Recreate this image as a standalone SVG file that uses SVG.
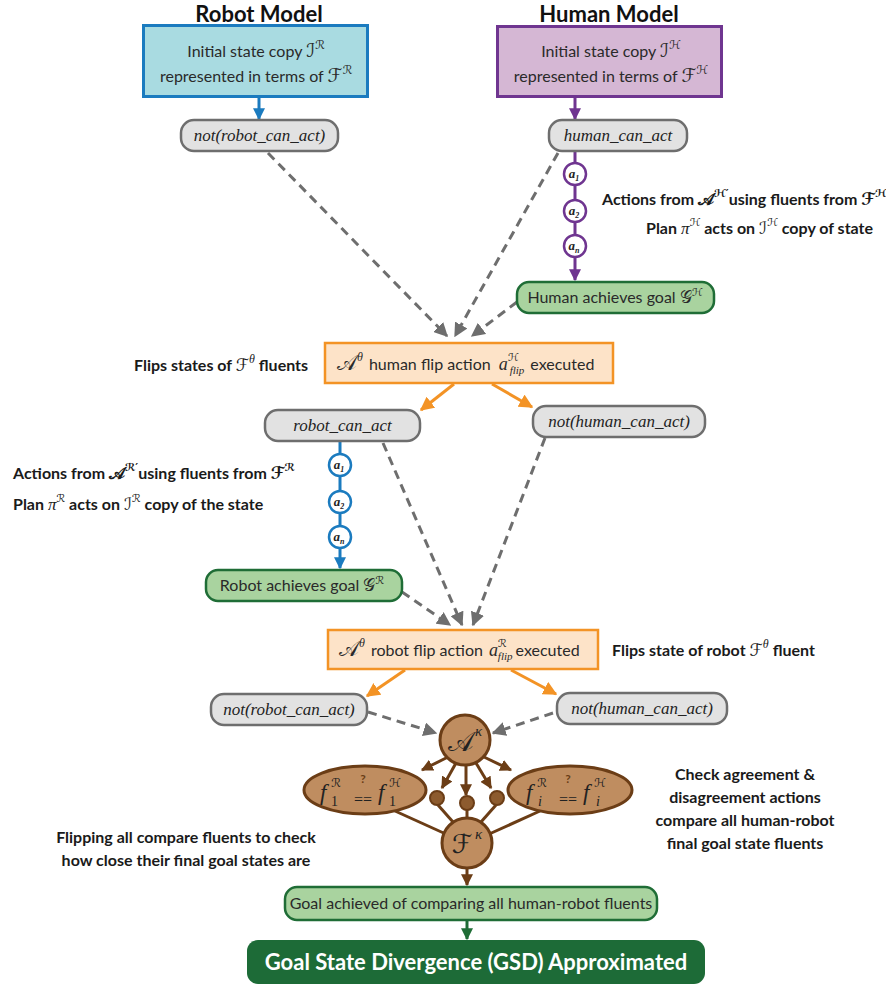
<svg xmlns="http://www.w3.org/2000/svg" width="886" height="987" viewBox="0 0 886 987">
<defs>
<style>
.lbl{font-family:"Lato","Open Sans","Liberation Sans",sans-serif;font-size:16px;fill:#2a2a2a}
.b{font-weight:700;fill:#1a1a1a}
.title{font-family:"Lato","Open Sans","Liberation Sans",sans-serif;font-size:22px;font-weight:700;fill:#111;text-anchor:middle}
.m{font-family:"Liberation Serif","DejaVu Serif",serif;font-style:italic}
.cal{font-family:"DejaVu Serif","DejaVu Sans",serif;font-style:normal}
.pill{fill:#e2e2e2;stroke:#6e6e6e;stroke-width:2.5}
.gpill{fill:#a9d39f;stroke:#1f6d36;stroke-width:2.5}
.obox{fill:#fde3c8;stroke:#f39325;stroke-width:2.5}
.pt{font-family:"Liberation Serif","DejaVu Serif",serif;font-style:italic;font-size:17px;fill:#222;text-anchor:middle}
.dash{stroke:#6e6e6e;stroke-width:3;stroke-dasharray:9 6;fill:none}
.brn{fill:#bf8d60;stroke:#6b3d16;stroke-width:3}
.bl{stroke:#6b3d16;stroke-width:3;fill:none}
.ac{font-family:"Liberation Serif","DejaVu Serif",serif;font-style:italic;font-weight:700;font-size:13px;fill:#222;text-anchor:middle}
</style>
<marker id="mBlue" viewBox="0 0 10 10" refX="9" refY="5" markerWidth="12" markerHeight="12" markerUnits="userSpaceOnUse" orient="auto"><path d="M0,0L10,5L0,10z" fill="#1b7bbf"/></marker>
<marker id="mPur" viewBox="0 0 10 10" refX="9" refY="5" markerWidth="12" markerHeight="12" markerUnits="userSpaceOnUse" orient="auto"><path d="M0,0L10,5L0,10z" fill="#6f3590"/></marker>
<marker id="mGray" viewBox="0 0 10 10" refX="9" refY="5" markerWidth="14" markerHeight="14" markerUnits="userSpaceOnUse" orient="auto"><path d="M0,0L10,5L0,10z" fill="#6e6e6e"/></marker>
<marker id="mOr" viewBox="0 0 10 10" refX="9" refY="5" markerWidth="14" markerHeight="14" markerUnits="userSpaceOnUse" orient="auto"><path d="M0,0L10,5L0,10z" fill="#f39325"/></marker>
<marker id="mBr" viewBox="0 0 10 10" refX="9" refY="5" markerWidth="12" markerHeight="12" markerUnits="userSpaceOnUse" orient="auto"><path d="M0,0L10,5L0,10z" fill="#6b3d16"/></marker>
<marker id="mGr" viewBox="0 0 10 10" refX="9" refY="5" markerWidth="12" markerHeight="12" markerUnits="userSpaceOnUse" orient="auto"><path d="M0,0L10,5L0,10z" fill="#1f6d36"/></marker>
</defs>
<rect width="886" height="987" fill="#ffffff"/>

<g id="connectors">
<line x1="259" y1="97" x2="259" y2="119" stroke="#1b7bbf" stroke-width="3" marker-end="url(#mBlue)"/>
<line x1="575" y1="97" x2="575" y2="119" stroke="#6f3590" stroke-width="3" marker-end="url(#mPur)"/>
<line x1="575" y1="151" x2="575" y2="280" stroke="#6f3590" stroke-width="3" marker-end="url(#mPur)"/>
<line x1="268" y1="153" x2="447" y2="336" class="dash" marker-end="url(#mGray)"/>
<line x1="558" y1="153" x2="455" y2="336" class="dash" marker-end="url(#mGray)"/>
<line x1="517" y1="302" x2="472" y2="336" class="dash" marker-end="url(#mGray)"/>
<line x1="454" y1="384" x2="421" y2="410" stroke="#f39325" stroke-width="3" marker-end="url(#mOr)"/>
<line x1="492" y1="384" x2="532" y2="407" stroke="#f39325" stroke-width="3" marker-end="url(#mOr)"/>
<line x1="340" y1="441" x2="340" y2="568" stroke="#1b7bbf" stroke-width="3" marker-end="url(#mBlue)"/>
<line x1="383" y1="443" x2="462" y2="625" class="dash" marker-end="url(#mGray)"/>
<line x1="545" y1="438" x2="473" y2="625" class="dash" marker-end="url(#mGray)"/>
<line x1="402" y1="592" x2="450" y2="625" class="dash" marker-end="url(#mGray)"/>
<line x1="405" y1="670" x2="367" y2="696" stroke="#f39325" stroke-width="3" marker-end="url(#mOr)"/>
<line x1="511" y1="670" x2="556" y2="694" stroke="#f39325" stroke-width="3" marker-end="url(#mOr)"/>
<line x1="368" y1="712" x2="436" y2="733" class="dash" marker-end="url(#mGray)"/>
<line x1="553" y1="713" x2="493" y2="733" class="dash" marker-end="url(#mGray)"/>
<line x1="448" y1="757" x2="422" y2="770" class="bl" marker-end="url(#mBr)"/>
<line x1="456" y1="763" x2="442" y2="788" class="bl" marker-end="url(#mBr)"/>
<line x1="466" y1="765" x2="466" y2="795" class="bl" marker-end="url(#mBr)"/>
<line x1="476" y1="763" x2="491" y2="788" class="bl" marker-end="url(#mBr)"/>
<line x1="484" y1="757" x2="511" y2="770" class="bl" marker-end="url(#mBr)"/>
<line x1="395" y1="811" x2="448" y2="835" class="bl"/>
<line x1="438" y1="805" x2="453" y2="822" class="bl"/>
<line x1="467" y1="810" x2="467" y2="819" class="bl"/>
<line x1="496" y1="805" x2="481" y2="822" class="bl"/>
<line x1="540" y1="811" x2="487" y2="835" class="bl"/>
<line x1="467" y1="868" x2="467" y2="885" class="bl" marker-end="url(#mBr)"/>
<line x1="467" y1="920" x2="467" y2="939" stroke="#1f6d36" stroke-width="3" marker-end="url(#mGr)"/>
</g>

<g id="robot-model">
<text x="259" y="22" class="title">Robot Model</text>
<rect x="143.5" y="25.5" width="224" height="71" fill="#a9dbe1" stroke="#1b7bbf" stroke-width="3"/>
<text x="256" y="57" class="lbl" font-size="17" text-anchor="middle">Initial state copy <tspan class="cal" font-size="19">ℐ</tspan><tspan class="cal" font-size="12" dy="-8">ℛ</tspan></text>
<text x="256" y="82" class="lbl" font-size="17" text-anchor="middle">represented in terms of <tspan class="cal" font-size="19">ℱ</tspan><tspan class="cal" font-size="12" dy="-8">ℛ</tspan></text>
</g>

<g id="human-model">
<text x="609" y="22" class="title">Human Model</text>
<rect x="497.5" y="26.5" width="224" height="70" fill="#d5b7d4" stroke="#6f3590" stroke-width="3"/>
<text x="611" y="57" class="lbl" font-size="17" text-anchor="middle">Initial state copy <tspan class="cal" font-size="19">ℐ</tspan><tspan class="cal" font-size="12" dy="-8">ℋ</tspan></text>
<text x="611" y="82" class="lbl" font-size="17" text-anchor="middle">represented in terms of <tspan class="cal" font-size="19">ℱ</tspan><tspan class="cal" font-size="12" dy="-8">ℋ</tspan></text>
</g>

<g id="not-robot-can-act-1">
<rect x="181" y="120" width="157" height="31" rx="13" class="pill"/>
<text x="259.5" y="141" class="pt">not(robot_can_act)</text>
</g>

<g id="human-can-act">
<rect x="549" y="120" width="138" height="31" rx="13" class="pill"/>
<text x="618" y="141" class="pt">human_can_act</text>
</g>

<g id="human-actions">
<circle cx="575" cy="174" r="11" fill="#fff" stroke="#6f3590" stroke-width="2.5"/>
<text x="574" y="178" class="ac">a<tspan font-size="8" dy="3">1</tspan></text>
<circle cx="575" cy="211" r="11" fill="#fff" stroke="#6f3590" stroke-width="2.5"/>
<text x="574" y="215" class="ac">a<tspan font-size="8" dy="3">2</tspan></text>
<circle cx="575" cy="246" r="11" fill="#fff" stroke="#6f3590" stroke-width="2.5"/>
<text x="574" y="250" class="ac">a<tspan font-size="8" dy="3">n</tspan></text>
</g>

<g id="human-actions-label">
<text x="602" y="205" class="lbl b">Actions from <tspan class="cal" font-size="17">𝒜</tspan><tspan class="cal" font-size="11" dy="-8">ℋ′</tspan><tspan dy="8">using fluents from </tspan><tspan class="cal" font-size="17">ℱ</tspan><tspan class="cal" font-size="11" dy="-8">ℋ</tspan></text>
<text x="646" y="234" class="lbl b">Plan <tspan class="m" font-size="17" font-weight="400">π</tspan><tspan class="cal" font-size="11" font-weight="400" dy="-8">ℋ</tspan><tspan dy="8"> acts on </tspan><tspan class="cal" font-size="17" font-weight="400">ℐ</tspan><tspan class="cal" font-size="11" font-weight="400" dy="-8">ℋ</tspan><tspan dy="8"> copy of state</tspan></text>
</g>

<g id="human-goal">
<rect x="517" y="282" width="197" height="31" rx="12" class="gpill"/>
<text x="615" y="303" class="lbl" text-anchor="middle">Human achieves goal <tspan class="cal" font-size="17">𝒢</tspan><tspan class="cal" font-size="11" dy="-7">ℋ</tspan></text>
</g>

<g id="human-flip">
<rect x="325" y="343" width="288" height="40" class="obox"/>
<text x="337" y="370" class="lbl" font-size="17"><tspan class="cal" font-size="21">𝒜</tspan><tspan class="m" font-size="12" dy="-9">θ</tspan><tspan dy="9" dx="6">human flip action </tspan><tspan class="m" font-size="18" dx="4">a</tspan><tspan class="cal" font-size="11" dy="-9">ℋ</tspan><tspan class="m" font-size="11" dx="-9" dy="13">flip</tspan><tspan dy="-4" dx="6">executed</tspan></text>
</g>

<g id="human-flip-label">
<text x="134" y="371" class="lbl b">Flips states of <tspan class="cal" font-size="17" font-weight="400">ℱ</tspan><tspan class="m" font-size="12" font-weight="400" dy="-8">θ</tspan><tspan dy="8"> fluents</tspan></text>
</g>

<g id="robot-can-act">
<rect x="265" y="410" width="155" height="31" rx="13" class="pill"/>
<text x="342.5" y="431" class="pt">robot_can_act</text>
</g>

<g id="not-human-can-act-1">
<rect x="533" y="406" width="172" height="31" rx="13" class="pill"/>
<text x="619" y="427" class="pt">not(human_can_act)</text>
</g>

<g id="robot-actions">
<circle cx="340" cy="465" r="11" fill="#fff" stroke="#1b7bbf" stroke-width="2.5"/>
<text x="339" y="469" class="ac">a<tspan font-size="8" dy="3">1</tspan></text>
<circle cx="340" cy="502" r="11" fill="#fff" stroke="#1b7bbf" stroke-width="2.5"/>
<text x="339" y="506" class="ac">a<tspan font-size="8" dy="3">2</tspan></text>
<circle cx="340" cy="537" r="11" fill="#fff" stroke="#1b7bbf" stroke-width="2.5"/>
<text x="339" y="541" class="ac">a<tspan font-size="8" dy="3">n</tspan></text>
</g>

<g id="robot-actions-label">
<text x="13" y="479" class="lbl b">Actions from  <tspan class="cal" font-size="17">𝒜</tspan><tspan class="cal" font-size="11" dy="-8">ℛ′</tspan><tspan dy="8">using fluents from </tspan><tspan class="cal" font-size="17">ℱ</tspan><tspan class="cal" font-size="11" dy="-8">ℛ</tspan></text>
<text x="13" y="510" class="lbl b">Plan <tspan class="m" font-size="17" font-weight="400">π</tspan><tspan class="cal" font-size="11" font-weight="400" dy="-8">ℛ</tspan><tspan dy="8"> acts on </tspan><tspan class="cal" font-size="17" font-weight="400">ℐ</tspan><tspan class="cal" font-size="11" font-weight="400" dy="-8">ℛ</tspan><tspan dy="8"> copy of the state</tspan></text>
</g>

<g id="robot-goal">
<rect x="206" y="570" width="196" height="31" rx="12" class="gpill"/>
<text x="302" y="591" class="lbl" text-anchor="middle">Robot achieves goal <tspan class="cal" font-size="17">𝒢</tspan><tspan class="cal" font-size="11" dy="-7">ℛ</tspan></text>
</g>

<g id="robot-flip">
<rect x="328" y="630" width="270" height="39" class="obox"/>
<text x="339" y="656" class="lbl" font-size="17"><tspan class="cal" font-size="21">𝒜</tspan><tspan class="m" font-size="12" dy="-9">θ</tspan><tspan dy="9" dx="6">robot flip action </tspan><tspan class="m" font-size="18" dx="2">a</tspan><tspan class="cal" font-size="11" dy="-9">ℛ</tspan><tspan class="m" font-size="11" dx="-9" dy="13">flip</tspan><tspan dy="-4" dx="3">executed</tspan></text>
</g>

<g id="robot-flip-label">
<text x="612" y="656" class="lbl b">Flips state of robot <tspan class="cal" font-size="17" font-weight="400">ℱ</tspan><tspan class="m" font-size="12" font-weight="400" dy="-8">θ</tspan><tspan dy="8"> fluent</tspan></text>
</g>

<g id="not-robot-can-act-2">
<rect x="211" y="694" width="156" height="31" rx="13" class="pill"/>
<text x="289" y="715" class="pt">not(robot_can_act)</text>
</g>

<g id="not-human-can-act-2">
<rect x="557" y="693" width="170" height="31" rx="13" class="pill"/>
<text x="642" y="714" class="pt">not(human_can_act)</text>
</g>

<g id="A-kappa">
<circle cx="465" cy="740" r="25" class="brn"/>
<text x="461" y="751" class="cal" font-size="27" fill="#222" text-anchor="middle">𝒜</text>
<text x="475" y="736" class="m" font-size="15" fill="#222">κ</text>
</g>

<g id="compare-1">
<ellipse cx="365" cy="790" rx="61" ry="24" class="brn"/>
<text x="320" y="800" class="m" font-size="23" fill="#222">f</text>
<text x="331" y="787" class="cal" font-size="12" fill="#222">ℛ</text>
<text x="331" y="806" font-family="Liberation Serif,serif" font-size="14" fill="#222">1</text>
<text x="363" y="783" font-family="Lato,Open Sans,sans-serif" font-weight="700" font-size="12" fill="#6b3d16" text-anchor="middle">?</text>
<text x="363" y="805" font-family="Liberation Serif,serif" font-size="16" fill="#222" text-anchor="middle">==</text>
<text x="378" y="800" class="m" font-size="23" fill="#222">f</text>
<text x="389" y="787" class="cal" font-size="12" fill="#222">ℋ</text>
<text x="389" y="806" font-family="Liberation Serif,serif" font-size="14" fill="#222">1</text>
</g>

<g id="compare-i">
<ellipse cx="570" cy="790" rx="62" ry="24" class="brn"/>
<text x="526" y="800" class="m" font-size="23" fill="#222">f</text>
<text x="537" y="787" class="cal" font-size="12" fill="#222">ℛ</text>
<text x="538" y="806" class="m" font-size="14" fill="#222">i</text>
<text x="568" y="783" font-family="Lato,Open Sans,sans-serif" font-weight="700" font-size="12" fill="#6b3d16" text-anchor="middle">?</text>
<text x="568" y="805" font-family="Liberation Serif,serif" font-size="16" fill="#222" text-anchor="middle">==</text>
<text x="583" y="800" class="m" font-size="23" fill="#222">f</text>
<text x="594" y="787" class="cal" font-size="12" fill="#222">ℋ</text>
<text x="596" y="806" class="m" font-size="14" fill="#222">i</text>
</g>

<g id="compare-dots">
<circle cx="437" cy="798" r="7" fill="#8d5b2e" stroke="#6b3d16" stroke-width="2"/>
<circle cx="467" cy="803" r="7" fill="#8d5b2e" stroke="#6b3d16" stroke-width="2"/>
<circle cx="497" cy="798" r="7" fill="#8d5b2e" stroke="#6b3d16" stroke-width="2"/>
</g>

<g id="F-kappa">
<circle cx="467" cy="843" r="25" class="brn"/>
<text x="462" y="853" class="cal" font-size="26" fill="#222" text-anchor="middle">ℱ</text>
<text x="475" y="839" class="m" font-size="15" fill="#222">κ</text>
</g>

<g id="check-label">
<text class="lbl b" text-anchor="middle"><tspan x="745" y="780">Check agreement &amp;</tspan><tspan x="745" y="803">disagreement actions</tspan><tspan x="745" y="826">compare all human-robot</tspan><tspan x="745" y="849">final goal state fluents</tspan></text>
</g>

<g id="flipping-label">
<text class="lbl b" text-anchor="middle"><tspan x="186" y="843">Flipping all compare fluents to check</tspan><tspan x="186" y="866">how close their final goal states are</tspan></text>
</g>

<g id="goal-achieved">
<rect x="285" y="887" width="372" height="33" rx="12" class="gpill"/>
<text x="471" y="909" class="lbl" font-size="15" text-anchor="middle">Goal achieved of comparing all human-robot fluents</text>
</g>

<g id="gsd">
<rect x="247" y="940" width="458" height="44" rx="11" fill="#1d6b37"/>
<text x="476" y="970" font-family="Lato,Open Sans,Liberation Sans,sans-serif" font-weight="700" font-size="22" fill="#ffffff" text-anchor="middle">Goal State Divergence (GSD) Approximated</text>
</g>
</svg>
